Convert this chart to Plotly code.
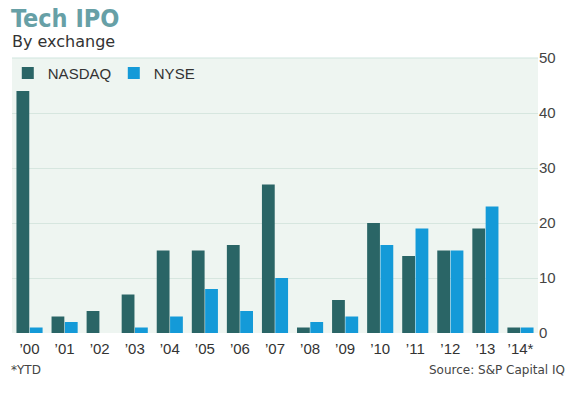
import plotly.graph_objects as go

years = ["’00", "’01", "’02", "’03", "’04", "’05", "’06", "’07", "’08", "’09", "’10", "’11", "’12", "’13", "’14*"]
nasdaq = [44, 3, 4, 7, 15, 15, 16, 27, 1, 6, 20, 14, 15, 19, 1]
nyse = [1, 2, 0, 1, 3, 8, 4, 10, 2, 3, 16, 19, 15, 23, 1]
y_ticks = [0, 10, 20, 30, 40, 50]

fig = go.Figure()
fig.add_bar(x=years, y=nasdaq, name="NASDAQ", marker=dict(color="#2a6566", line=dict(width=0)))
fig.add_bar(x=years, y=nyse, name="NYSE", marker=dict(color="#149ad8", line=dict(width=0)))

fig.update_layout(
    width=569, height=398,
    margin=dict(l=12, r=31, t=58, b=65, autoexpand=False),
    paper_bgcolor="white",
    plot_bgcolor="#eef5f1",
    barmode="group",
    bargap=0.24,
    bargroupgap=0.04,
    font=dict(family="Liberation Sans, Arial, sans-serif", color="#333333"),
    showlegend=True,
    legend=dict(orientation="h", x=-0.008, y=1.005, xanchor="left", yanchor="top",
                bgcolor="rgba(0,0,0,0)", font=dict(size=15, color="#333333"),
                itemwidth=30, entrywidth=61, entrywidthmode="pixels", traceorder="normal"),
    xaxis=dict(showgrid=False, showline=False, ticks="", tickfont=dict(size=15, color="#333333"),
               ticklabelstandoff=5, fixedrange=True),
    yaxis=dict(side="right", range=[0, 50], tickvals=y_ticks, showgrid=True, gridcolor="#d6e6df",
               gridwidth=1, zeroline=False, showline=False, ticks="",
               tickfont=dict(size=15, color="#444444"), fixedrange=True),
)
fig.add_annotation(text="<b>Tech IPO</b>", xref="paper", yref="paper", x=-0.006, y=1.145,
                   xanchor="left", yanchor="middle", showarrow=False,
                   font=dict(family="DejaVu Sans Condensed, DejaVu Sans", size=25, color="#67a0a6"))
fig.add_annotation(text="By exchange", xref="paper", yref="paper", x=-0.004, y=1.06,
                   xanchor="left", yanchor="middle", showarrow=False,
                   font=dict(family="DejaVu Sans, Verdana", size=16, color="#333333"))
fig.add_annotation(text="*YTD", xref="paper", yref="paper", x=-0.006, y=-0.135,
                   xanchor="left", yanchor="middle", showarrow=False,
                   font=dict(family="DejaVu Sans, Verdana", size=12, color="#444444"))
fig.add_annotation(text="Source: S&P Capital IQ", xref="paper", yref="paper", x=1.056, y=-0.135,
                   xanchor="right", yanchor="middle", showarrow=False,
                   font=dict(family="DejaVu Sans, Verdana", size=12, color="#444444"))
fig.add_shape(type="line", xref="paper", yref="paper", x0=0, x1=1, y0=1, y1=1,
              line=dict(color="#cfe5de", width=1))

fig.write_html("out.html", config={"displayModeBar": False},
               post_script="document.body.style.margin='0';document.body.style.padding='0';")
